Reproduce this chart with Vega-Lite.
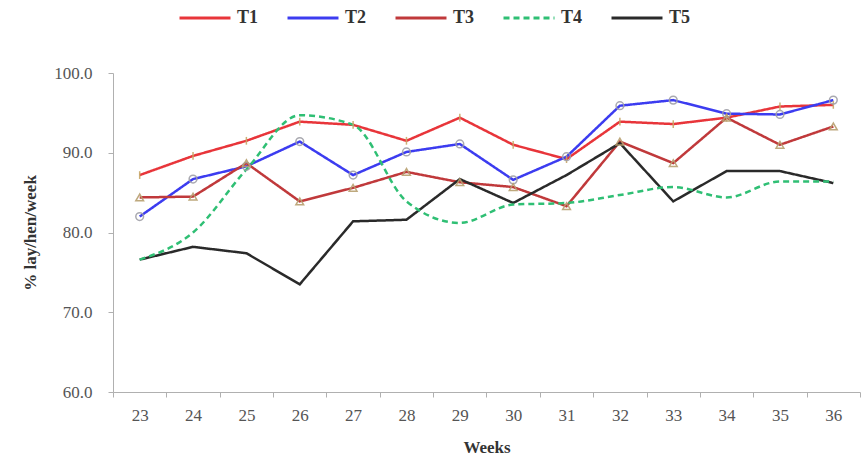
{
  "$schema": "https://vega.github.io/schema/vega-lite/v6.json",
  "width": 747,
  "height": 319,
  "autosize": {"type": "none"},
  "padding": {"left": 113, "top": 73, "right": 6, "bottom": 66},
  "background": "white",
  "config": {
    "view": {"stroke": null},
    "font": "Liberation Serif",
    "axis": {
      "labelFont": "Liberation Serif",
      "titleFont": "Liberation Serif",
      "labelFontSize": 17,
      "labelColor": "#555",
      "titleFontSize": 17,
      "titleFontWeight": "bold",
      "titleColor": "#333",
      "domainColor": "#b0b0b0",
      "tickColor": "#b0b0b0",
      "grid": false
    }
  },
  "data": {
    "values": [
      {"week": 23, "series": "T1", "value": 87.2},
      {"week": 24, "series": "T1", "value": 89.6},
      {"week": 25, "series": "T1", "value": 91.5},
      {"week": 26, "series": "T1", "value": 93.9},
      {"week": 27, "series": "T1", "value": 93.5},
      {"week": 28, "series": "T1", "value": 91.5},
      {"week": 29, "series": "T1", "value": 94.4},
      {"week": 30, "series": "T1", "value": 91.0},
      {"week": 31, "series": "T1", "value": 89.2},
      {"week": 32, "series": "T1", "value": 93.9},
      {"week": 33, "series": "T1", "value": 93.6},
      {"week": 34, "series": "T1", "value": 94.4},
      {"week": 35, "series": "T1", "value": 95.8},
      {"week": 36, "series": "T1", "value": 96.0},
      {"week": 23, "series": "T2", "value": 82.0},
      {"week": 24, "series": "T2", "value": 86.7},
      {"week": 25, "series": "T2", "value": 88.3},
      {"week": 26, "series": "T2", "value": 91.4},
      {"week": 27, "series": "T2", "value": 87.2},
      {"week": 28, "series": "T2", "value": 90.1},
      {"week": 29, "series": "T2", "value": 91.1},
      {"week": 30, "series": "T2", "value": 86.6},
      {"week": 31, "series": "T2", "value": 89.5},
      {"week": 32, "series": "T2", "value": 95.9},
      {"week": 33, "series": "T2", "value": 96.6},
      {"week": 34, "series": "T2", "value": 94.9},
      {"week": 35, "series": "T2", "value": 94.8},
      {"week": 36, "series": "T2", "value": 96.6},
      {"week": 23, "series": "T3", "value": 84.4},
      {"week": 24, "series": "T3", "value": 84.5},
      {"week": 25, "series": "T3", "value": 88.7},
      {"week": 26, "series": "T3", "value": 83.9},
      {"week": 27, "series": "T3", "value": 85.6},
      {"week": 28, "series": "T3", "value": 87.6},
      {"week": 29, "series": "T3", "value": 86.3},
      {"week": 30, "series": "T3", "value": 85.7},
      {"week": 31, "series": "T3", "value": 83.3},
      {"week": 32, "series": "T3", "value": 91.4},
      {"week": 33, "series": "T3", "value": 88.7},
      {"week": 34, "series": "T3", "value": 94.4},
      {"week": 35, "series": "T3", "value": 91.0},
      {"week": 36, "series": "T3", "value": 93.3},
      {"week": 23, "series": "T4", "value": 76.6},
      {"week": 24, "series": "T4", "value": 80.0},
      {"week": 25, "series": "T4", "value": 87.9},
      {"week": 26, "series": "T4", "value": 94.7},
      {"week": 27, "series": "T4", "value": 93.5},
      {"week": 28, "series": "T4", "value": 83.9},
      {"week": 29, "series": "T4", "value": 81.2},
      {"week": 30, "series": "T4", "value": 83.5},
      {"week": 31, "series": "T4", "value": 83.7},
      {"week": 32, "series": "T4", "value": 84.7},
      {"week": 33, "series": "T4", "value": 85.7},
      {"week": 34, "series": "T4", "value": 84.4},
      {"week": 35, "series": "T4", "value": 86.4},
      {"week": 36, "series": "T4", "value": 86.4},
      {"week": 23, "series": "T5", "value": 76.6},
      {"week": 24, "series": "T5", "value": 78.2},
      {"week": 25, "series": "T5", "value": 77.4},
      {"week": 26, "series": "T5", "value": 73.5},
      {"week": 27, "series": "T5", "value": 81.4},
      {"week": 28, "series": "T5", "value": 81.6},
      {"week": 29, "series": "T5", "value": 86.7},
      {"week": 30, "series": "T5", "value": 83.7},
      {"week": 31, "series": "T5", "value": 87.2},
      {"week": 32, "series": "T5", "value": 91.2},
      {"week": 33, "series": "T5", "value": 83.9},
      {"week": 34, "series": "T5", "value": 87.7},
      {"week": 35, "series": "T5", "value": 87.7},
      {"week": 36, "series": "T5", "value": 86.2}
    ]
  },
  "encoding": {
    "x": {
      "field": "week",
      "type": "ordinal",
      "bandPosition": 0.5,
      "scale": {"type": "band", "paddingInner": 0, "paddingOuter": 0},
      "axis": {
        "title": "Weeks",
        "labelAngle": 0,
        "tickBand": "extent",
        "tickSize": 5,
        "labelPadding": 10,
        "titlePadding": 16
      }
    },
    "y": {
      "field": "value",
      "type": "quantitative",
      "scale": {"domain": [60, 100], "nice": false, "zero": false},
      "axis": {
        "title": "% lay/hen/week",
        "values": [60, 70, 80, 90, 100],
        "format": ".1f",
        "tickSize": 5,
        "labelPadding": 16,
        "titlePadding": 14
      }
    },
    "color": {
      "field": "series",
      "type": "nominal",
      "scale": {
        "domain": ["T1", "T2", "T3", "T4", "T5"],
        "range": ["#e8353a", "#3c3cf0", "#c0393b", "#2fbf74", "#2a2a2a"]
      },
      "legend": {
        "title": null,
        "orient": "none",
        "direction": "horizontal",
        "legendX": 65,
        "legendY": -82,
        "symbolType": "stroke",
        "symbolSize": 2600,
        "symbolStrokeWidth": 3,
        "labelFont": "Liberation Serif",
        "labelFontSize": 18,
        "labelFontWeight": "bold",
        "labelColor": "#333",
        "labelOffset": 5,
        "columnPadding": 22
      }
    },
    "strokeDash": {
      "field": "series",
      "type": "nominal",
      "scale": {
        "domain": ["T1", "T2", "T3", "T4", "T5"],
        "range": [[1, 0], [1, 0], [1, 0], [6, 4], [1, 0]]
      },
      "legend": {
        "title": null,
        "orient": "none",
        "direction": "horizontal",
        "legendX": 65,
        "legendY": -82,
        "symbolType": "stroke",
        "symbolSize": 2600,
        "symbolStrokeWidth": 3,
        "labelFont": "Liberation Serif",
        "labelFontSize": 18,
        "labelFontWeight": "bold",
        "labelColor": "#333",
        "labelOffset": 5,
        "columnPadding": 22
      }
    }
  },
  "layer": [
    {
      "transform": [{"filter": "datum.series !== 'T4'"}],
      "mark": {"type": "line", "strokeWidth": 2.5}
    },
    {
      "transform": [{"filter": "datum.series === 'T4'"}],
      "mark": {"type": "line", "strokeWidth": 2.5, "interpolate": "monotone"}
    },
    {
      "transform": [{"filter": "datum.series === 'T1' || datum.series === 'T2' || datum.series === 'T3'"}],
      "mark": {"type": "point", "filled": false, "strokeWidth": 1.5, "opacity": 0.9},
      "encoding": {
        "color": null,
        "strokeDash": null,
        "shape": {
          "field": "series",
          "type": "nominal",
          "scale": {
            "domain": ["T1", "T2", "T3"],
            "range": ["M0,-1L0,1", "circle", "triangle-up"]
          },
          "legend": null
        },
        "stroke": {
          "field": "series",
          "type": "nominal",
          "scale": {"domain": ["T1", "T2", "T3"], "range": ["#c8a868", "#a0a0a8", "#b8a070"]},
          "legend": null
        },
        "size": {"value": 60}
      }
    }
  ]
}
